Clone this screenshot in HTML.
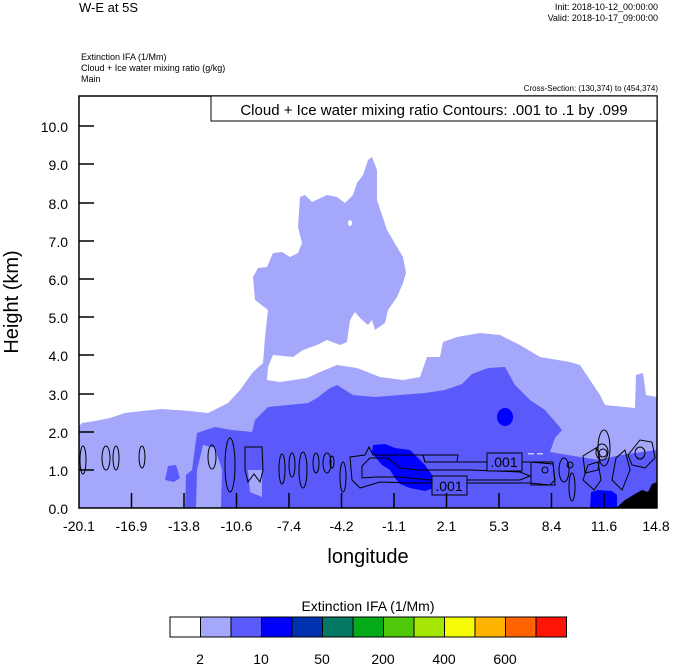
<!DOCTYPE html>
<html><head><style>
body{margin:0;background:#fff;}
svg text{font-family:"Liberation Sans",Arial,sans-serif;}
</style></head><body>
<svg width="674" height="667" viewBox="0 0 674 667" xmlns="http://www.w3.org/2000/svg">
<rect width="674" height="667" fill="#fff"/>
<text x="79" y="12" font-size="13">W-E at 5S</text>
<text x="658" y="10" font-size="9" text-anchor="end">Init: 2018-10-12_00:00:00</text>
<text x="658" y="21" font-size="9" text-anchor="end">Valid: 2018-10-17_09:00:00</text>
<text x="81" y="60" font-size="9">Extinction IFA   (1/Mm)</text>
<text x="81" y="71" font-size="9">Cloud + Ice water mixing ratio    (g/kg)</text>
<text x="81" y="82" font-size="9">Main</text>
<text x="658" y="91" font-size="8" text-anchor="end">Cross-Section: (130,374) to (454,374)</text>
<clipPath id="c"><rect x="79" y="96" width="578" height="412"/></clipPath>
<g clip-path="url(#c)">
<path fill="#a5a8fa" d="M79,508 L79,426 L82,423 L95,421 L110,418 L125,413 L142,411 L162,409 L190,411 L208,413 L228,403 L240,390 L253,372 L263,363 L265,337 L268,310 L255,300 L253,277 L258,268 L267,267 L273,253 L282,252 L290,257 L298,253 L302,243 L298,227 L300,197 L305,195 L312,202 L327,195 L337,197 L345,203 L353,195 L357,183 L363,175 L368,160 L372,157 L377,170 L377,200 L387,230 L397,247 L403,257 L406,273 L403,283 L397,297 L388,310 L385,323 L375,330 L372,320 L368,325 L360,318 L355,312 L350,320 L347,342 L340,345 L327,340 L317,345 L303,350 L293,357 L273,355 L268,367 L267,380 L280,382 L307,378 L320,372 L337,365 L357,368 L380,377 L403,380 L420,377 L427,357 L440,357 L443,342 L457,337 L480,333 L500,335 L520,345 L540,357 L570,362 L580,365 L590,380 L600,395 L605,405 L635,408 L636,375 L643,373 L646,395 L657,397 L657,508 Z"/>
<ellipse cx="350" cy="223" rx="2" ry="3" fill="#fff"/>
<path fill="#5a5afa" d="M185,508 L186,475 L192,470 L196,440 L197,433 L215,427 L232,430 L252,432 L255,420 L268,407 L308,403 L317,398 L330,388 L337,385 L345,390 L353,395 L375,397 L400,395 L425,393 L445,390 L462,384 L472,374 L488,368 L505,367 L515,385 L530,400 L545,410 L558,425 L562,430 L555,438 L550,452 L580,457 L600,460 L620,455 L657,450 L657,508 Z"/>
<path fill="#5a5afa" d="M165,480 L168,466 L176,465 L180,478 L174,482 Z"/>
<path fill="#a5a8fa" d="M196,508 L197,470 L203,445 L215,448 L222,470 L221,508 Z"/>
<path fill="#a5a8fa" d="M248,470 L262,470 L262,497 L250,492 Z"/>
<rect x="528" y="453" width="6" height="1.5" fill="#c8c8ff"/><rect x="537" y="453" width="6" height="1.5" fill="#c8c8ff"/>
<path fill="#0000ff" d="M373,445 L385,444 L395,448 L410,450 L418,458 L425,465 L432,475 L434,488 L425,491 L410,488 L400,484 L395,478 L390,470 L382,465 L376,458 L372,452 Z"/>
<ellipse cx="505" cy="417" rx="8" ry="9" fill="#0000ff"/>
<path fill="#0000ff" d="M590,508 L591,492 L598,490 L612,491 L617,495 L617,508 Z"/>
<path fill="#000" d="M616,508 L625,500 L635,494 L642,490 L648,492 L652,484 L657,482 L657,508 Z"/>
<g fill="none" stroke="#000" stroke-width="1">
<ellipse cx="83" cy="460" rx="3" ry="14"/><ellipse cx="106" cy="458" rx="4" ry="12"/><ellipse cx="116" cy="458" rx="3" ry="12"/>
<ellipse cx="142" cy="457" rx="3" ry="11"/><ellipse cx="212" cy="457" rx="4" ry="12"/><ellipse cx="230" cy="465" rx="5" ry="27"/>
<path d="M245,447 L262,447 L263,470 L260,482 L254,474 L248,482 L245,470 Z"/>
<ellipse cx="282" cy="469" rx="3" ry="15"/><ellipse cx="292" cy="465" rx="3" ry="12"/><ellipse cx="303" cy="470" rx="4" ry="18"/>
<ellipse cx="316" cy="463" rx="3" ry="10"/><ellipse cx="327" cy="463" rx="4" ry="10"/><ellipse cx="343" cy="477" rx="3" ry="15"/><ellipse cx="332" cy="462" rx="2" ry="6"/>
<path d="M350,457 L365,455 L369,447 L373,455 L423,455 L425,462 L460,462 L487,462 L530,462 L553,464 L555,480 L550,485 L530,483 L520,483 L470,483 L440,483 L410,483 L380,482 L360,488 L352,480 Z"/>
<path d="M362,466 L370,458 L388,458 L400,468 L420,470 L470,470 L520,472 L530,476 L520,480 L470,480 L430,480 L400,477 L375,477 L362,478 Z"/>
<path d="M423,455 L425,462 L457,462 L458,455 Z"/>
<path d="M531,462 L553,462 L555,485 L531,485 Z"/>
<ellipse cx="545" cy="470" rx="3" ry="3"/>
<ellipse cx="564" cy="470" rx="5" ry="12"/><ellipse cx="572" cy="487" rx="3" ry="14"/>
<ellipse cx="570" cy="465" rx="3" ry="3"/>
<path d="M583,456 L596,448 L600,455 L598,470 L585,473 Z"/>
<path d="M583,480 L588,465 L598,462 L601,480 L594,490 Z"/>
<ellipse cx="602" cy="452" rx="6" ry="8"/><ellipse cx="603" cy="453" rx="4" ry="4"/>
<ellipse cx="604" cy="448" rx="6" ry="18"/>
<path d="M612,480 L616,458 L625,450 L630,470 L622,490 Z"/>
<path d="M628,455 L640,440 L652,442 L655,458 L645,468 L632,465 Z"/>
<ellipse cx="640" cy="453" rx="5" ry="6"/>
</g>
<rect x="487" y="453" width="35" height="18" fill="#5a5afa" stroke="#000"/>
<text x="504" y="467" font-size="14" text-anchor="middle">.001</text>
<rect x="432" y="476" width="35" height="19" fill="#5a5afa" stroke="#000"/>
<text x="449" y="491" font-size="14" text-anchor="middle">.001</text>
</g>
<rect x="79" y="96" width="578" height="412" fill="none" stroke="#000" stroke-width="1.5"/>
<rect x="211" y="96" width="446" height="25" fill="#fff" stroke="#000" stroke-width="1"/>
<text x="434" y="115" font-size="15" text-anchor="middle">Cloud + Ice water mixing ratio Contours: .001 to .1 by .099</text>
<g stroke="#000" stroke-width="1.5">
<line x1="79" y1="470" x2="94" y2="470"/><line x1="79" y1="432" x2="94" y2="432"/><line x1="79" y1="394" x2="94" y2="394"/><line x1="79" y1="355" x2="94" y2="355"/><line x1="79" y1="317" x2="94" y2="317"/><line x1="79" y1="279" x2="94" y2="279"/><line x1="79" y1="241" x2="94" y2="241"/><line x1="79" y1="203" x2="94" y2="203"/><line x1="79" y1="164" x2="94" y2="164"/><line x1="79" y1="126" x2="94" y2="126"/>
<line x1="131.5" y1="508" x2="131.5" y2="493"/><line x1="184" y1="508" x2="184" y2="493"/><line x1="236.5" y1="508" x2="236.5" y2="493"/><line x1="289" y1="508" x2="289" y2="493"/><line x1="341.5" y1="508" x2="341.5" y2="493"/><line x1="394" y1="508" x2="394" y2="493"/><line x1="446.5" y1="508" x2="446.5" y2="493"/><line x1="499" y1="508" x2="499" y2="493"/><line x1="551.5" y1="508" x2="551.5" y2="493"/><line x1="604" y1="508" x2="604" y2="493"/>
</g>
<g font-size="14" text-anchor="end">
<text x="68" y="514">0.0</text><text x="68" y="476">1.0</text><text x="68" y="438">2.0</text><text x="68" y="400">3.0</text><text x="68" y="361">4.0</text><text x="68" y="323">5.0</text><text x="68" y="285">6.0</text><text x="68" y="247">7.0</text><text x="68" y="209">8.0</text><text x="68" y="170">9.0</text><text x="68" y="132">10.0</text>
</g>
<g font-size="14" text-anchor="middle">
<text x="79" y="531">-20.1</text><text x="131.5" y="531">-16.9</text><text x="184" y="531">-13.8</text><text x="236.5" y="531">-10.6</text><text x="289" y="531">-7.4</text><text x="341.5" y="531">-4.2</text><text x="394" y="531">-1.1</text><text x="446.5" y="531">2.1</text><text x="499" y="531">5.3</text><text x="551.5" y="531">8.4</text><text x="604" y="531">11.6</text><text x="656" y="531">14.8</text>
</g>
<text x="368" y="563" font-size="20" text-anchor="middle">longitude</text>
<text transform="translate(18,302) rotate(-90)" font-size="20" text-anchor="middle">Height (km)</text>
<text x="368" y="611" font-size="14" text-anchor="middle">Extinction IFA  (1/Mm)</text>
<g stroke="#000" stroke-width="1">
<rect x="170" y="617" width="30.5" height="20" fill="#fff"/>
<rect x="200.5" y="617" width="30.5" height="20" fill="#a5a8fa"/>
<rect x="231" y="617" width="30.5" height="20" fill="#5a5afa"/>
<rect x="261.5" y="617" width="30.5" height="20" fill="#0000fa"/>
<rect x="292" y="617" width="30.5" height="20" fill="#0032af"/>
<rect x="322.5" y="617" width="30.5" height="20" fill="#057864"/>
<rect x="353" y="617" width="30.5" height="20" fill="#05aa19"/>
<rect x="383.5" y="617" width="30.5" height="20" fill="#50c80a"/>
<rect x="414" y="617" width="30.5" height="20" fill="#a5e605"/>
<rect x="444.5" y="617" width="30.5" height="20" fill="#f5fa05"/>
<rect x="475" y="617" width="30.5" height="20" fill="#ffb400"/>
<rect x="505.5" y="617" width="30.5" height="20" fill="#ff6400"/>
<rect x="536" y="617" width="30.5" height="20" fill="#ff1405"/>
</g>
<g font-size="14" text-anchor="middle">
<text x="200" y="664">2</text><text x="261" y="664">10</text><text x="322" y="664">50</text><text x="383" y="664">200</text><text x="444" y="664">400</text><text x="505" y="664">600</text>
</g>
</svg>
</body></html>
